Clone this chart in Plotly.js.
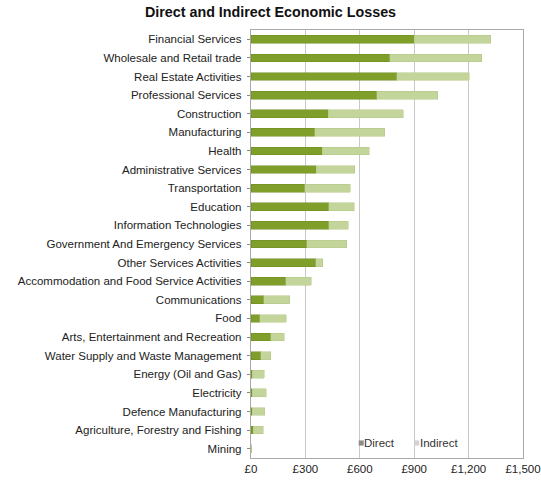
<!DOCTYPE html>
<html>
<head>
<meta charset="utf-8">
<script src="https://cdn.plot.ly/plotly-3.0.1.min.js"></script>
<style>html,body{margin:0;padding:0;background:#fff;}#chart{width:541px;height:480px;}</style>
</head>
<body>
<div id="chart"></div>
<script>
const categories = ["Financial Services","Wholesale and Retail trade","Real Estate Activities","Professional Services","Construction","Manufacturing","Health","Administrative Services","Transportation","Education","Information Technologies","Government And Emergency Services","Other Services Activities","Accommodation and Food Service Activities","Communications","Food","Arts, Entertainment and Recreation","Water Supply and Waste Management","Energy (Oil and Gas)","Electricity","Defence Manufacturing","Agriculture, Forestry and Fishing","Mining"];
const direct   = [900, 765, 803, 693, 427, 352, 394, 359, 296, 429, 429, 308, 358, 192, 71, 49, 108, 55, 8, 8, 8, 12, 2];
const indirect = [421, 507, 401, 338, 412, 385, 259, 214, 251, 140, 107, 219, 38, 140, 142, 146, 74, 55, 65, 76, 69, 56, 3];
const xTicks = [0, 300, 600, 900, 1200, 1500];
const xTickLabels = ["£0", "£300", "£600", "£900", "£1,200", "£1,500"];
const seriesNames = ["Direct", "Indirect"];
const legendSwatch = ["#8c8c8c", "#d2d2d2"];

const data = [
  {type:'bar', orientation:'h', name:seriesNames[0], y:categories, x:direct,
   marker:{color:'#7f9f2a', line:{color:'#6f8c22', width:0.5}}},
  {type:'bar', orientation:'h', name:seriesNames[1], y:categories, x:indirect,
   marker:{color:'#c3d59a', line:{color:'#b3c884', width:0.5}}}
];

const legendX = [0.396, 0.600];
const annotations = seriesNames.map((n, i) => ({
  xref:'paper', yref:'paper', x:legendX[i] + 0.021, y:0.035, xanchor:'left', yanchor:'middle', showarrow:false,
  text:n, font:{size:11.5, color:'#333'}, xshift:-2
}));
const shapes = seriesNames.map((n, i) => ({
  type:'rect', xref:'paper', yref:'paper', x0:legendX[i], x1:legendX[i] + 0.0185, y0:0.029, y1:0.041,
  fillcolor:legendSwatch[i], line:{width:0}
}));

const layout = {
  width:541, height:480,
  margin:{l:251, r:18, t:30, b:22},
  paper_bgcolor:'#fff', plot_bgcolor:'#fff',
  font:{family:'Liberation Sans, Arial, sans-serif', size:11, color:'#222'},
  title:{text:'<b>Direct and Indirect Economic Losses</b>', font:{size:14.3, color:'#111'}, x:0.5, xanchor:'center', y:0.985, yanchor:'top'},
  barmode:'stack', bargap:0.58,
  showlegend:false,
  annotations:annotations,
  shapes:shapes,
  xaxis:{range:[0,1500], tickvals:xTicks, ticktext:xTickLabels, showgrid:true, gridcolor:'#c8c8c8', gridwidth:1,
         zeroline:false, showline:true, linecolor:'#a8a8a8', mirror:true, ticks:'', tickfont:{size:11.5},
         ticklabeloverflow:'allow', fixedrange:true},
  yaxis:{type:'category', categoryorder:'array', categoryarray:categories, autorange:'reversed',
         showline:true, linecolor:'#a8a8a8', mirror:true, ticks:'outside', ticklen:3, tickcolor:'#888',
         showgrid:false, tickfont:{size:11.5}, ticksuffix:' '}
};

Plotly.newPlot('chart', data, layout, {displayModeBar:false, staticPlot:true});
</script>
</body>
</html>
